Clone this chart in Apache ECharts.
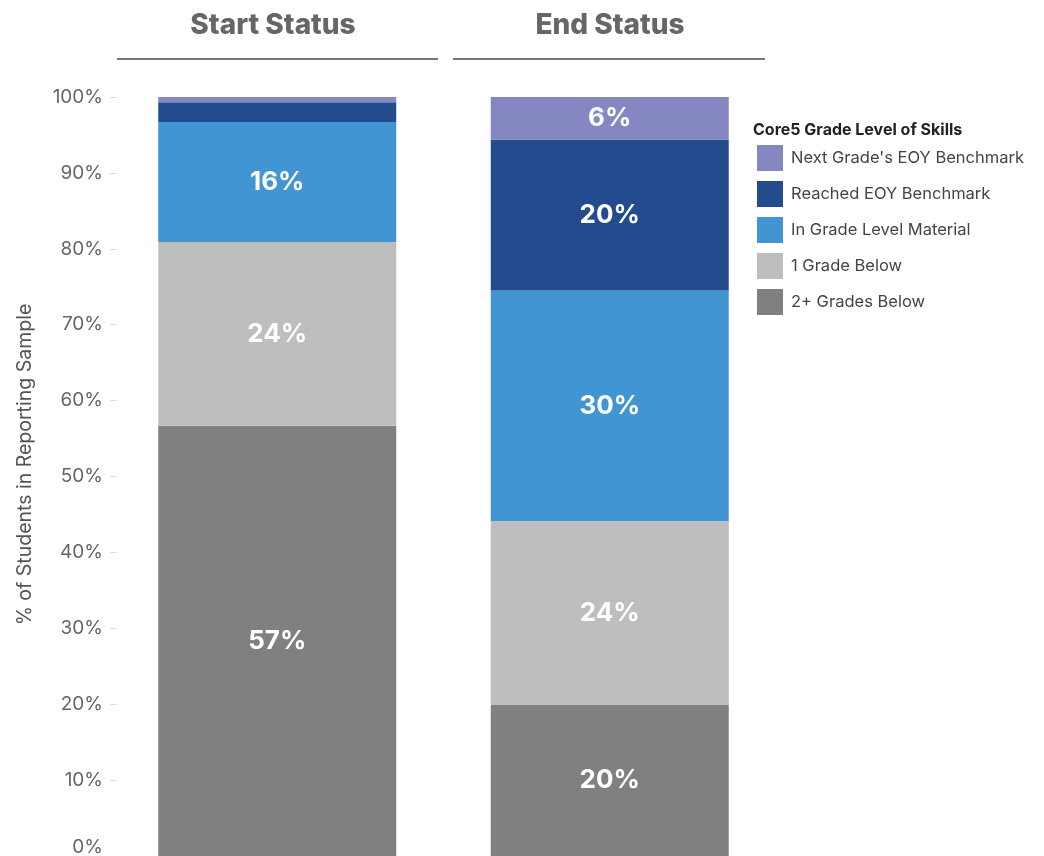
<!DOCTYPE html>
<html>
<head>
<meta charset="utf-8">
<script src="https://cdn.jsdelivr.net/npm/echarts@6/dist/echarts.min.js"></script>
<style>
  html, body { margin: 0; padding: 0; background: #fff; }
  #chart { width: 1044px; height: 856px; }
</style>
</head>
<body>
<div id="chart"></div>
<script>
// categories and values (% of students), bottom segment first
const statuses = ['Start Status', 'End Status'];
const twoPlusBelow = [56.7, 19.9];
const oneGradeBelow = [24.2, 24.2];
const inGradeLevel = [15.8, 30.4];
const reachedEoy = [2.6, 19.9];
const nextGradeEoy = [0.7, 5.6];
const yTicks = [0, 10, 20, 30, 40, 50, 60, 70, 80, 90, 100];

const chart = echarts.init(document.getElementById('chart'));
const font = 'Inter, Roboto, sans-serif';

const labelStyle = {
  show: true,
  color: '#fff',
  fontFamily: font,
  fontWeight: 'bold',
  fontSize: 26,
  formatter: p => (p.value >= 5 ? Math.round(p.value) + '%' : '')
};

function seg(name, data, color) {
  return {
    name: name,
    type: 'bar',
    stack: 'total',
    barWidth: 238,
    data: data,
    itemStyle: { color: color },
    label: labelStyle,
    emphasis: { disabled: true }
  };
}

chart.setOption({
  animation: false,
  textStyle: { fontFamily: font },
  title: [
    { text: statuses[0], left: 268, top: 7, textAlign: 'center',
      textStyle: { fontSize: 28, fontWeight: 800, color: '#666', fontFamily: font } },
    { text: statuses[1], left: 605, top: 7, textAlign: 'center',
      textStyle: { fontSize: 28, fontWeight: 800, color: '#666', fontFamily: font } }
  ],
  graphic: [
    { type: 'line', shape: { x1: 117, y1: 59, x2: 438, y2: 59 }, style: { stroke: '#777', lineWidth: 2 } },
    { type: 'line', shape: { x1: 453, y1: 59, x2: 765, y2: 59 }, style: { stroke: '#777', lineWidth: 2 } },
    { type: 'text', left: 753, top: 122,
      style: { text: 'Core5 Grade Level of Skills', fontSize: 16, fontWeight: 'bold', fill: '#222', fontFamily: font } }
  ],
  legend: {
    orient: 'vertical',
    left: 757,
    top: 145,
    padding: 0,
    itemWidth: 26,
    itemHeight: 26,
    itemGap: 10,
    icon: 'rect',
    selectedMode: false,
    data: ["Next Grade's EOY Benchmark", 'Reached EOY Benchmark', 'In Grade Level Material', '1 Grade Below', '2+ Grades Below'],
    textStyle: { fontSize: 16.5, color: '#444', fontFamily: font, padding: [0, 0, 0, 3] }
  },
  grid: { left: 111, right: 268, top: 97, bottom: 0, containLabel: false, outerBoundsMode: 'none' },
  xAxis: {
    type: 'category',
    data: statuses,
    axisLine: { show: false },
    axisTick: { show: false },
    axisLabel: { show: false }
  },
  yAxis: {
    type: 'value',
    min: yTicks[0],
    max: yTicks[yTicks.length - 1],
    interval: 10,
    offset: -6,
    name: '% of Students in Reporting Sample',
    nameLocation: 'middle',
    nameGap: 82,
    nameTextStyle: { fontSize: 19.5, color: '#555', fontFamily: font, padding: [0, 0, 0, 24] },
    axisLine: { show: false },
    axisTick: { show: true, length: 7, lineStyle: { color: '#ddd' } },
    splitLine: { show: false },
    axisLabel: {
      fontSize: 19,
      color: '#666',
      margin: 14,
      fontFamily: font,
      formatter: v => (v === 0 ? '{z|0%}' : v + '%'),
      rich: { z: { fontSize: 19, color: '#666', fontFamily: font, padding: [0, 0, 18, 0] } }
    }
  },
  series: [
    seg('2+ Grades Below', twoPlusBelow, '#808080'),
    seg('1 Grade Below', oneGradeBelow, '#bebebe'),
    seg('In Grade Level Material', inGradeLevel, '#4195d3'),
    seg('Reached EOY Benchmark', reachedEoy, '#234b8e'),
    seg("Next Grade's EOY Benchmark", nextGradeEoy, '#8487c1')
  ]
});
</script>
</body>
</html>
